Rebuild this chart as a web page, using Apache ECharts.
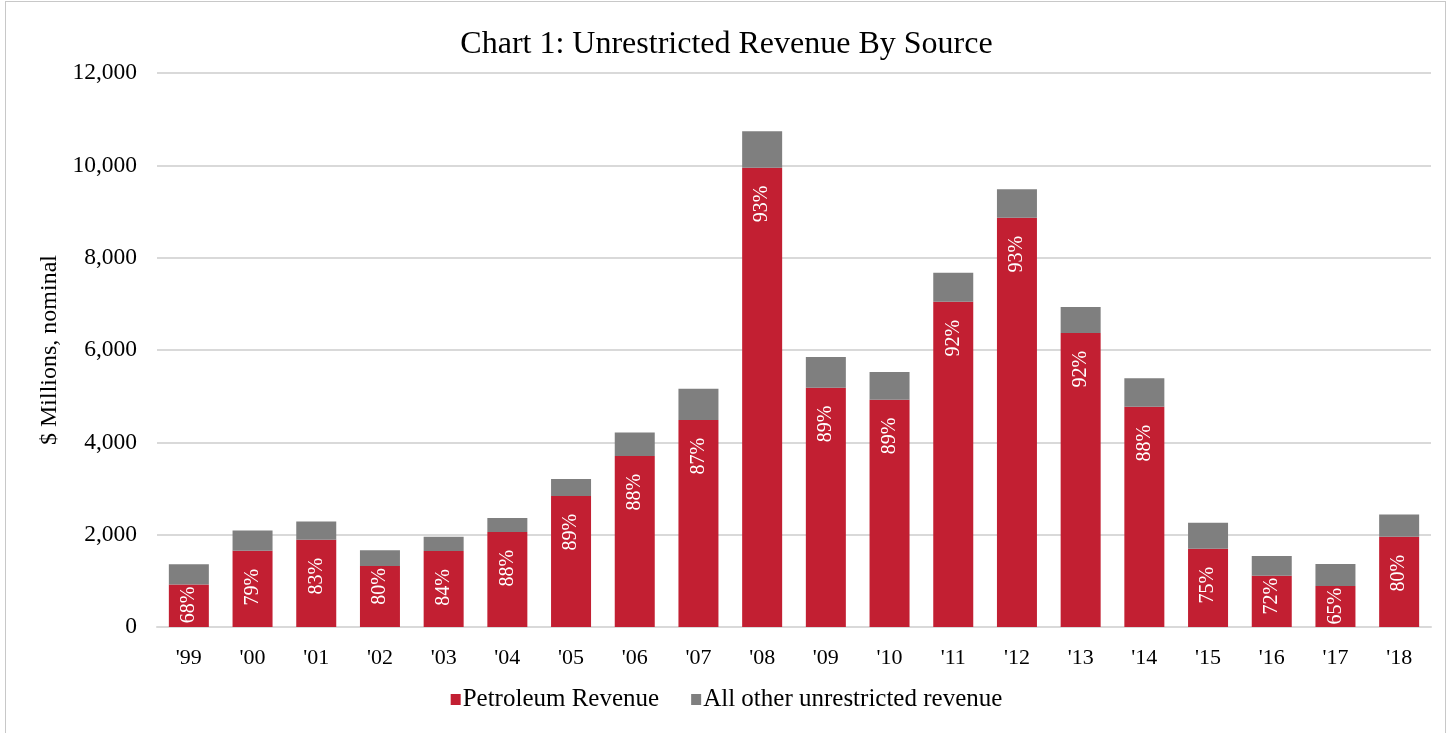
<!DOCTYPE html>
<html>
<head>
<meta charset="utf-8">
<script src="https://cdn.jsdelivr.net/npm/echarts@6/dist/echarts.min.js"></script>
<style>
  html, body { margin: 0; padding: 0; background: #fff; }
  #frame { position: absolute; left: 5px; top: 1px; width: 1441px; height: 740px; border: 1px solid #c8c8c8; box-sizing: border-box; }
  #chart { position: absolute; left: 0; top: 0; width: 1453px; height: 733px; }
</style>
</head>
<body>
<div id="frame"></div>
<div id="chart"></div>
<script>
// fiscal years
const years = ["'99", "'00", "'01", "'02", "'03", "'04", "'05", "'06", "'07", "'08",
  "'09", "'10", "'11", "'12", "'13", "'14", "'15", "'16", "'17", "'18"]
// $ millions
const petroleum = [920, 1650, 1890, 1320, 1645, 2060, 2840, 3705, 4485, 9950,
  5185, 4925, 7045, 8865, 6370, 4770, 1695, 1110, 890, 1955]
const otherRevenue = [440, 440, 395, 345, 310, 300, 365, 510, 675, 790,
  665, 600, 630, 615, 560, 620, 565, 430, 475, 480]
// share of petroleum, as printed on the bars
const shareLabels = ['68%', '79%', '83%', '80%', '84%', '88%', '89%', '88%', '87%', '93%',
  '89%', '89%', '92%', '93%', '92%', '88%', '75%', '72%', '65%', '80%']

const font = '"Liberation Serif", "Times New Roman", serif'
const yMax = 12000
const plotHeight = 554

// short bars get their label pushed up to the top edge, like Excel does
const petroleumItems = petroleum.map(v => {
  const px = v / yMax * plotHeight
  return { value: v, label: { distance: px < 63 ? 2 : 18 } }
})

const chart = echarts.init(document.getElementById('chart'))

chart.setOption({
  animation: false,
  textStyle: { fontFamily: font },
  title: {
    text: 'Chart 1: Unrestricted Revenue By Source',
    left: 'center',
    top: 24,
    textStyle: { fontFamily: font, fontSize: 32, fontWeight: 'normal', color: '#000' }
  },
  legend: {
    bottom: 16,
    left: 'center',
    itemWidth: 10,
    itemHeight: 11,
    itemGap: 32,
    icon: 'rect',
    textStyle: { fontFamily: font, fontSize: 25, color: '#000', padding: [0, 0, 0, -3] },
    data: ['Petroleum Revenue', 'All other unrestricted revenue']
  },
  grid: { left: 157, right: 22, top: 73, bottom: 106 },
  xAxis: {
    type: 'category',
    data: years,
    axisLine: { lineStyle: { color: '#d9d9d9', width: 2 } },
    axisTick: { show: false },
    axisLabel: { fontFamily: font, fontSize: 22, color: '#000', margin: 20 }
  },
  yAxis: {
    type: 'value',
    min: 0,
    max: yMax,
    interval: 2000,
    name: '$ Millions, nominal',
    nameLocation: 'middle',
    nameGap: 93,
    nameTextStyle: { fontFamily: font, fontSize: 24, color: '#000' },
    axisLabel: {
      fontFamily: font, fontSize: 23.5, color: '#000', margin: 20,
      formatter: v => v.toLocaleString('en-US')
    },
    splitLine: { lineStyle: { color: '#d9d9d9', width: 2 } }
  },
  series: [
    {
      name: 'Petroleum Revenue',
      type: 'bar',
      stack: 'rev',
      barWidth: 40,
      itemStyle: { color: '#c21f32' },
      label: {
        show: true,
        position: 'insideTop',
        distance: 18,
        rotate: 90,
        align: 'right',
        verticalAlign: 'middle',
        fontFamily: font,
        fontSize: 20,
        color: '#fff',
        formatter: p => shareLabels[p.dataIndex]
      },
      data: petroleumItems
    },
    {
      name: 'All other unrestricted revenue',
      type: 'bar',
      stack: 'rev',
      barWidth: 40,
      itemStyle: { color: '#7f7f7f' },
      data: otherRevenue
    }
  ]
})
</script>
</body>
</html>
